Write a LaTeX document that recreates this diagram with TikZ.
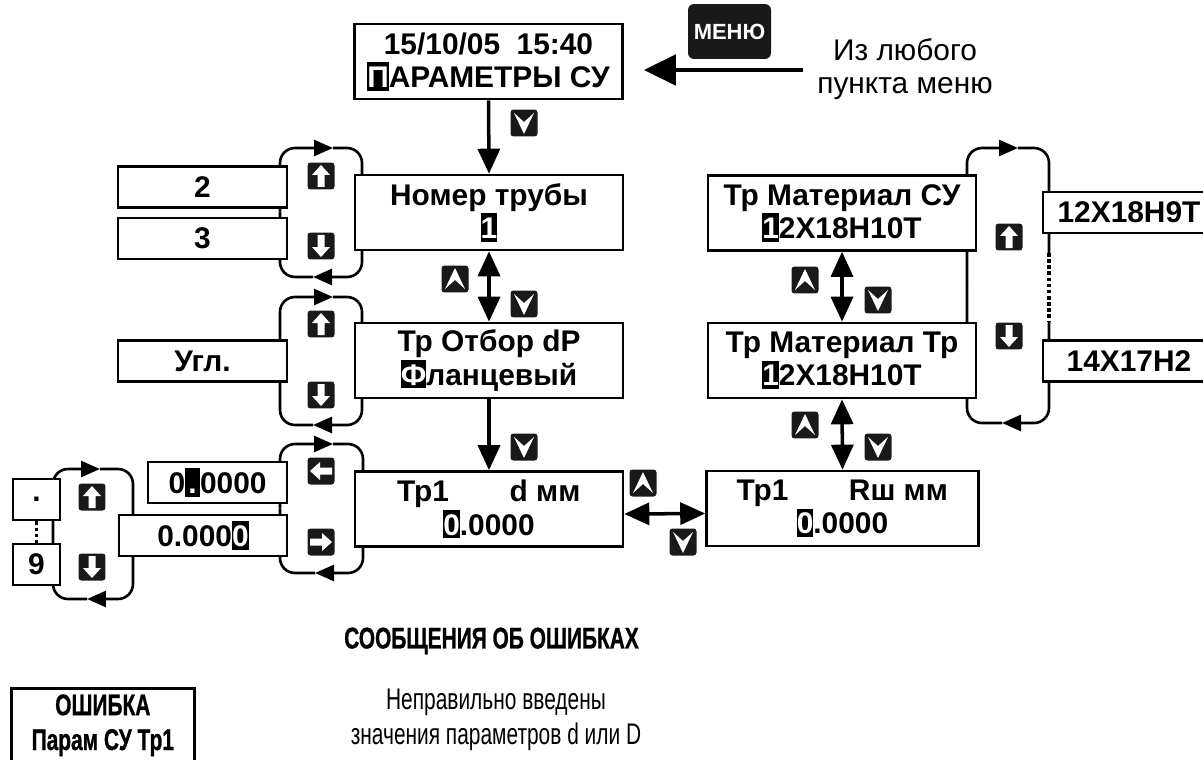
\documentclass[tikz,border=0pt]{standalone}
\usepackage{fontspec}
\setmainfont{Liberation Sans}
\newfontfamily\narrowfont[FakeStretch=0.7, BoldFeatures={FakeBold=0.8}]{Liberation Sans}
\usetikzlibrary{arrows.meta}

\newcommand{\boxfont}{\bfseries\fontsize{17}{19}\selectfont}
\newcommand{\notefont}{\fontsize{17}{19}\selectfont}
\newcommand{\errfont}{\narrowfont\fontsize{17}{19.8}\selectfont}
% inverted character (LCD cursor)
\newcommand{\cur}[1]{{\setlength{\fboxsep}{0pt}\colorbox{black}{\rule[-0.1em]{0pt}{0.95em}\textcolor{white}{#1}}}}
% scroll loop: left, top, right, bottom, x of upper tip, x of lower tip
\newcommand{\navloop}[6]{%
  \draw[loophead] (#1,{(#2+#4)/2}) -- (#1,#2) -- (#5,#2);
  \draw[loophead] (#5,#2) -- (#3,#2) -- (#3,#4) -- (#6,#4);
  \draw[loopline] (#6,#4) -- (#1,#4) -- (#1,{(#2+#4)/2});
}

\tikzset{
  keycap/.style={fill=black!90, rounded corners=0.06cm, minimum width=0.54cm, minimum height=0.54cm, inner sep=0pt},
  pics/navdn/.style={code={\node[keycap] (-k) {}; \fill[white] (-10,-10) -- (0,-1) -- (10,-10) -- (0,11) -- cycle;}},
  pics/navup/.style={code={\node[keycap] (-k) {}; \fill[white] (-10,10) -- (0,1) -- (10,10) -- (0,-11) -- cycle;}},
  pics/scrup/.style={code={\node[keycap] (-k) {}; \fill[white] (0,-11) -- (9,-1) -- (3.5,-1) -- (3.5,11) -- (-3.5,11) -- (-3.5,-1) -- (-9,-1) -- cycle;}},
  pics/scrdn/.style={code={\node[keycap] (-k) {}; \fill[white, rotate=180] (0,-11) -- (9,-1) -- (3.5,-1) -- (3.5,11) -- (-3.5,11) -- (-3.5,-1) -- (-9,-1) -- cycle;}},
  pics/scrlt/.style={code={\node[keycap] (-k) {}; \fill[white, rotate=90] (0,-11) -- (9,-1) -- (3.5,-1) -- (3.5,11) -- (-3.5,11) -- (-3.5,-1) -- (-9,-1) -- cycle;}},
  pics/scrrt/.style={code={\node[keycap] (-k) {}; \fill[white, rotate=-90] (0,-11) -- (9,-1) -- (3.5,-1) -- (3.5,11) -- (-3.5,11) -- (-3.5,-1) -- (-9,-1) -- cycle;}},
}

\begin{document}
\begin{tikzpicture}[x=0.02cm, y=-0.02cm,
    lcd/.style={draw, line width=1.5pt, fill=white, minimum width=5.36cm, minimum height=1.5cm, inner sep=0pt, align=center, font=\boxfont},
    opt/.style={draw, line width=1.5pt, fill=white, minimum height=0.82cm, inner sep=0pt, font=\boxfont},
    flow/.style={line width=2pt, -{Triangle[length=0.5cm, width=0.44cm]}},
    flow2/.style={line width=2pt, {Triangle[length=0.5cm, width=0.44cm]}-{Triangle[length=0.5cm, width=0.44cm]}},
    loopline/.style={line width=1.5pt, rounded corners=0.3cm},
    loophead/.style={loopline, -{Triangle[length=0.38cm, width=0.32cm]}},
    note/.style={align=center, font=\notefont}]

  \useasboundingbox (0,0) rectangle (1203,760);
  \clip (0,0) rectangle (1203,760);

  % scroll loops (behind the boxes)
  \navloop{280}{148}{362}{277}{333}{313}
  \navloop{280}{297}{362}{425}{333}{313}
  \navloop{280}{444}{363}{573}{333}{315}
  \navloop{53}{469}{133}{599}{100}{87}
  \draw[loophead] (967,285) -- (967,148) -- (1018,148);
  \draw[loopline] (1018,148) -- (1049,148) -- (1049,253);
  \draw[line width=1.8pt, dash pattern=on 2pt off 1.5pt] (1049,253) -- (1049,322);
  \draw[loophead] (1049,322) -- (1049,423) -- (1002,423);
  \draw[loopline] (1002,423) -- (967,423) -- (967,285);

  % menu screens
  \node[lcd] (top) at (488.5,61.5) {15/10/05\ \ 15:40\\\cur{П}АРАМЕТРЫ СУ};
  \node[lcd] (nomer) at (489,212.5) {Номер трубы\\\cur{1}};
  \node[lcd] (otbor) at (489,360.5) {Тр Отбор dP\\\cur{Ф}ланцевый};
  \node[lcd] (dmm) at (489,509) {\makebox[2.24cm]{Тр1}\makebox[2.64cm]{d мм}\\\cur{0}.0000};
  \node[lcd] (matsu) at (842,213) {Тр Материал СУ\\\cur{1}2Х18Н10Т};
  \node[lcd] (mattr) at (842,360.5) {Тр Материал Тр\\\cur{1}2Х18Н10Т};
  \node[lcd] (rsh) at (842.5,508.5) {\makebox[2.24cm]{Тр1}\makebox[3.2cm]{Rш мм}\\\cur{0}.0000};

  % values to choose from
  \node[opt, minimum width=3.38cm] (two) at (202.5,187) {2};
  \node[opt, minimum width=3.38cm] (three) at (202.5,238.5) {3};
  \node[opt, minimum width=3.38cm] (ugl) at (202.5,361) {Угл.};
  \node[opt, minimum width=2.78cm] (fracdot) at (217.5,482.5) {0\cur{\makebox[0.5em]{.}}0000\hspace{0.5cm}};
  \node[opt, minimum width=3.36cm] (fraclast) at (203,535.5) {0.000\cur{0}};
  \node[opt, minimum width=0.94cm] (dotk) at (36.5,499.5) {.};
  \node[opt, minimum width=0.94cm] (nine) at (36.5,564.5) {9};
  \node[opt, minimum width=3.44cm] (h9t) at (1129,212.5) {12Х18Н9Т};
  \node[opt, minimum width=3.44cm] (h2) at (1129,361) {14Х17Н2};
  \draw[line width=2pt, dash pattern=on 2pt off 1.6pt] (dotk.south) -- (nine.north);

  % entry from any menu item
  \node[keycap, minimum width=1.66cm, minimum height=1.1cm, rounded corners=0.12cm, text=white,
        font=\bfseries\fontsize{12.5}{14}\selectfont] (menu) at (729.5,31.5) {МЕНЮ};
  \coordinate (menusrc) at (803,70);
  \draw[line width=2.8pt, -{Triangle[length=0.64cm, width=0.6cm]}, shorten >=0.4cm] (menusrc) -- (top.east |- menusrc);
  \node[note] (anywhere) at (905,69) {Из любого\\пункта меню};

  % transitions
  \draw[flow] (top.south) -- (nomer.north);
  \draw[flow2] (nomer.south) -- (otbor.north);
  \draw[flow] (otbor.south) -- (dmm.north);
  \draw[flow2] (matsu.south) -- (mattr.north);
  \draw[flow2] (mattr.south) -- (rsh.north);
  \draw[flow2] ([yshift=-0.1cm]dmm.east) -- ([yshift=-0.1cm]rsh.west);

  % keys
  \pic (kdn1) at (524,123) {navdn};
  \pic (kup1) at (321,176) {scrup};
  \pic (kdn2) at (321,246) {scrdn};
  \pic (kup2) at (455,279) {navup};
  \pic (kdn3) at (524,304) {navdn};
  \pic (kup3) at (321,324) {scrup};
  \pic (kdn4) at (321,395) {scrdn};
  \pic (kdn5) at (524,447) {navdn};
  \pic (klt) at (321,471) {scrlt};
  \pic (krt) at (321,542) {scrrt};
  \pic (kup4) at (92,497) {scrup};
  \pic (kdn6) at (92,567) {scrdn};
  \pic (kup5) at (643,483) {navup};
  \pic (kdn7) at (683,542) {navdn};
  \pic (kup6) at (805,280) {navup};
  \pic (kdn8) at (878,300) {navdn};
  \pic (kup7) at (805,425) {navup};
  \pic (kdn9) at (878,447) {navdn};
  \pic (kup8) at (1009,237) {scrup};
  \pic (kdn10) at (1009,336) {scrdn};

  % error messages
  \node[font=\errfont\bfseries] (errtitle) at (491.5,641) {СООБЩЕНИЯ ОБ ОШИБКАХ};
  \node[draw, line width=1.5pt, anchor=north west, minimum width=3.66cm, minimum height=2cm,
        label={[anchor=north, inner sep=0pt, yshift=-0.14cm, align=center, font=\errfont\bfseries]north:{ОШИБКА\\Парам СУ Тр1}}] (errbox) at (10,687) {};
  \node[align=center, font=\errfont] (errtext) at (496,720) {Неправильно введены\\значения параметров d или D};
\end{tikzpicture}
\end{document}
